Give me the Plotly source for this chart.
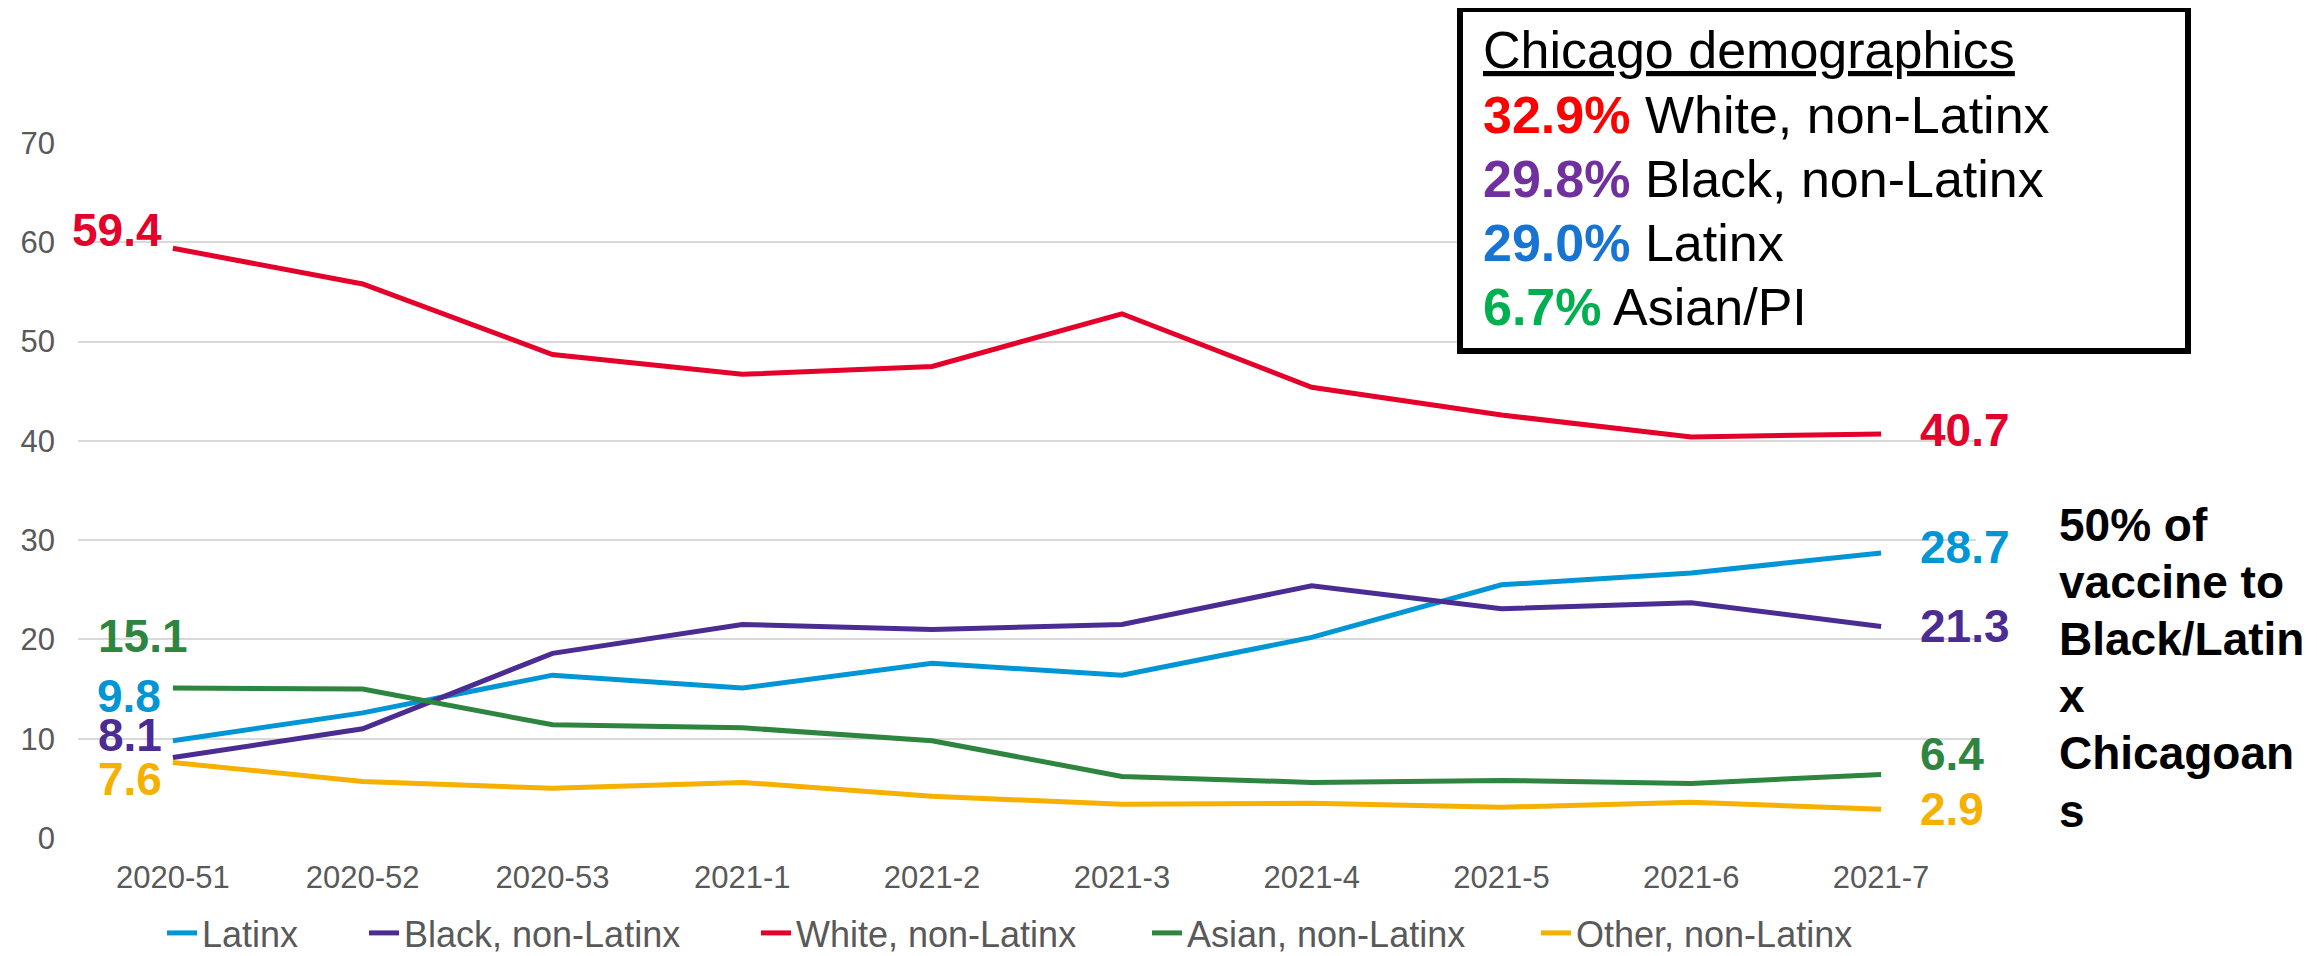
import plotly.graph_objects as go

# ---------------- data ----------------
weeks = ["2020-51", "2020-52", "2020-53", "2021-1", "2021-2",
         "2021-3", "2021-4", "2021-5", "2021-6", "2021-7"]
latinx = [9.8, 12.6, 16.4, 15.1, 17.6, 16.4, 20.2, 25.5, 26.7, 28.7]
black = [8.1, 11.0, 18.6, 21.5, 21.0, 21.5, 25.4, 23.1, 23.7, 21.3]
white = [59.4, 55.8, 48.7, 46.7, 47.5, 52.8, 45.4, 42.6, 40.4, 40.7]
asian = [15.1, 15.0, 11.4, 11.1, 9.8, 6.2, 5.6, 5.8, 5.5, 6.4]
other = [7.6, 5.7, 5.0, 5.6, 4.2, 3.4, 3.5, 3.1, 3.6, 2.9]

series_names = ["Latinx", "Black, non-Latinx", "White, non-Latinx",
                "Asian, non-Latinx", "Other, non-Latinx"]
series_values = [latinx, black, white, asian, other]
series_colors = ["#0096D6", "#4B2C92", "#E4002B", "#2E8540", "#F5B000"]

demo_pcts = ["32.9%", "29.8%", "29.0%", "6.7%"]
demo_groups = ["White, non-Latinx", "Black, non-Latinx", "Latinx", "Asian/PI"]
demo_colors = ["#FF0000", "#7030A0", "#1874D2", "#00B050"]

side_note_lines = ["50% of", "vaccine to", "Black/Latin", "x", "Chicagoan", "s"]

# ---------------- geometry helpers ----------------
# The page body has an 8px default margin, so the figure is drawn 8px in.
OFF = 8
W, H = 2317 - OFF, 956 - OFF
# plot area in screen pixels
SL, SR, ST, SB = 78, 1976, 143, 838
L, R, T, B = SL - OFF, SR - OFF, ST - OFF, SB - OFF


def px(x):
    """screen x -> paper x"""
    return (x - SL) / (SR - SL)


def py(y):
    """screen y -> paper y"""
    return (SB - y) / (SB - ST)


FONT = "Liberation Sans, Arial, sans-serif"

fig = go.Figure()

legend_text_x = [204, 406, 798, 1189, 1578]
for i, (name, vals, col) in enumerate(zip(series_names, series_values, series_colors)):
    lg = "legend" if i == 0 else f"legend{i + 1}"
    fig.add_trace(go.Scatter(
        x=weeks, y=vals, name=name, mode="lines",
        line=dict(color=col, width=5),
        legend=lg, hoverinfo="skip",
    ))

# legends, one per item, placed along the bottom
legend_layouts = {}
for i, tx in enumerate(legend_text_x):
    key = "legend" if i == 0 else f"legend{i + 1}"
    legend_layouts[key] = dict(
        orientation="h", x=px(tx - 42), xanchor="left",
        y=py(933), yanchor="middle",
        font=dict(family=FONT, size=36, color="#595959"),
        bgcolor="rgba(0,0,0,0)", borderwidth=0,
        tracegroupgap=0, itemclick=False,
    )

annotations = []

# left-side data labels (first week)
left_shift = {  # (xanchor, xshift, yshift)
    2: ("right", -9, 18),
    3: ("left", -77, 52),
    0: ("left", -78, 45),
    1: ("left", -77, 23),
    4: ("left", -77, -16),
}
for idx, (anc, xs, ys) in left_shift.items():
    v = series_values[idx][0]
    annotations.append(dict(
        x=weeks[0], y=v, xref="x", yref="y", text=f"<b>{v:.1f}</b>",
        showarrow=False, xanchor=anc, yanchor="middle", xshift=xs, yshift=ys,
        font=dict(family=FONT, size=46, color=series_colors[idx]),
    ))

# right-side data labels (last week)
right_yshift = {2: 4, 0: 6, 1: 1, 3: 20, 4: 0}
for idx, ys in right_yshift.items():
    v = series_values[idx][-1]
    annotations.append(dict(
        x=weeks[-1], y=v, xref="x", yref="y", text=f"<b>{v:.1f}</b>",
        showarrow=False, xanchor="left", yanchor="middle", xshift=37, yshift=ys,
        font=dict(family=FONT, size=46, color=series_colors[idx]),
    ))

# side note
for i, line in enumerate(side_note_lines):
    annotations.append(dict(
        x=px(2057), y=py(525 + 57.1 * i), xref="paper", yref="paper",
        text=f"<b>{line}</b>", showarrow=False, xanchor="left", yanchor="middle",
        font=dict(family=FONT, size=46, color="#000000"),
    ))

# demographics box text
annotations.append(dict(
    x=px(1481), y=py(50), xref="paper", yref="paper",
    text="<u>Chicago demographics</u>", showarrow=False,
    xanchor="left", yanchor="middle",
    font=dict(family=FONT, size=52, color="#000000"),
))
for i, (p, g, c) in enumerate(zip(demo_pcts, demo_groups, demo_colors)):
    annotations.append(dict(
        x=px(1481), y=py(115 + 64 * i), xref="paper", yref="paper",
        text=f"<b><span style='color:{c}'>{p}</span></b> {g}", showarrow=False,
        xanchor="left", yanchor="middle",
        font=dict(family=FONT, size=52, color="#000000"),
    ))

shapes = [dict(
    type="rect", xref="paper", yref="paper",
    x0=px(1460), x1=px(2188), y0=py(9), y1=py(351),
    line=dict(color="#000000", width=6), fillcolor="#FFFFFF", layer="above",
)]

fig.update_layout(
    width=W, height=H,
    margin=dict(l=L, r=W - R, t=T, b=H - B, pad=0, autoexpand=False),
    paper_bgcolor="#FFFFFF", plot_bgcolor="#FFFFFF",
    font=dict(family=FONT, color="#595959"),
    showlegend=True,
    annotations=annotations,
    shapes=shapes,
    xaxis=dict(
        type="category", showgrid=False, zeroline=False, showline=False,
        ticks="", tickfont=dict(family=FONT, size=31, color="#595959"),
        ticklabelstandoff=18, range=[-0.5, len(weeks) - 0.5], automargin=False,
    ),
    yaxis=dict(
        range=[0, 70], dtick=10, tick0=0, showgrid=True, gridcolor="#D9D9D9",
        gridwidth=2, zeroline=False, showline=False, ticks="",
        tickfont=dict(family=FONT, size=31, color="#595959"),
        ticklabelstandoff=22, automargin=False,
    ),
    **legend_layouts,
)

fig.write_html("out.html")
